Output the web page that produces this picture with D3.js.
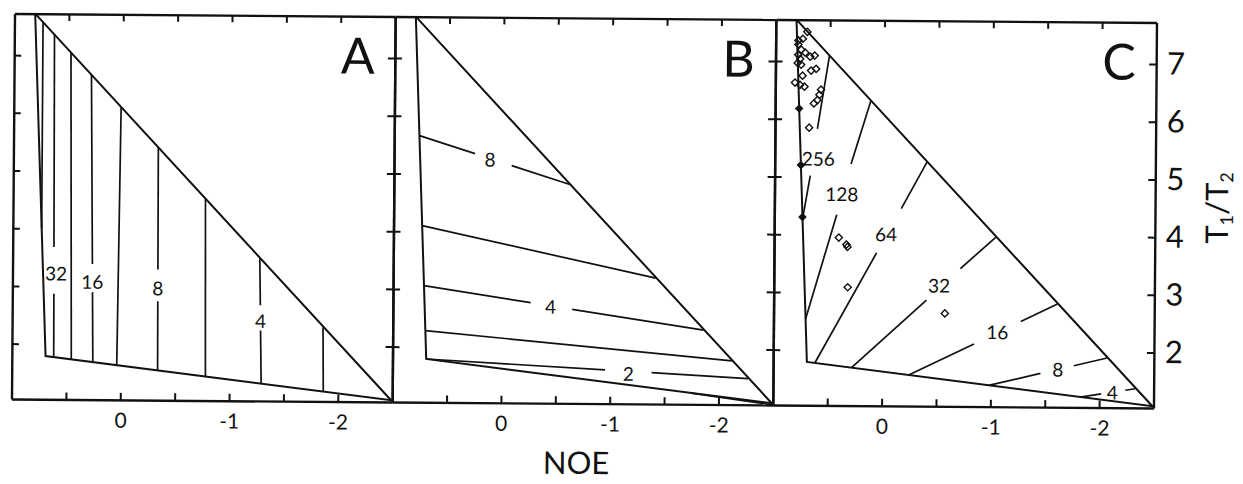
<!DOCTYPE html>
<meta charset="utf-8">
<head>
<!-- Load d3.js -->
<script src="https://d3js.org/d3.v7.min.js"></script>
<style type="text/css">
  body { margin: 0; background: #fff; }
  text { font-family: Lato, "Open Sans", sans-serif; fill: #111; }
  .tick line, .domain { stroke: #111; }
</style>
</head>
<body>
<div id="my_dataviz"></div>

<script>

// ---- data: x = NOE, y = T1/T2 ----
var panelNames = ["A", "B", "C"];
var xTicks = [0.5, 0, -0.5, -1, -1.5, -2];
var xTickLabels = [0, -1, -2];
var yTicks = [2, 3, 4, 5, 6, 7];

// outer limit of the allowed region (same in all three panels)
var boundary = [[0.81, 7.72], [0.69, 1.79], [-2.49, 1.07], [0.81, 7.72]];

// panel A contour segments (broken where a label sits)
var contoursA = [
  [[0.737, 7.572], [0.735, 4.0]],
  [[0.631, 7.358], [0.6205, 3.68]], [[0.618, 2.87], [0.615, 1.773]],
  [[0.478, 7.049], [0.453, 1.736]],
  [[0.288, 6.665], [0.266, 3.39]], [[0.263, 2.90], [0.255, 1.691]],
  [[0.013, 6.109], [0.035, 1.641]],
  [[-0.332, 5.412], [-0.337, 3.305]], [[-0.338, 2.755], [-0.341, 1.556]],
  [[-0.769, 4.528], [-0.781, 1.456]],
  [[-1.273, 3.510], [-1.281, 2.70]], [[-1.285, 2.26], [-1.294, 1.339]],
  [[-1.859, 2.325], [-1.866, 1.210]]
];
var labelsA = [["32", 0.60, 3.22], ["16", 0.265, 3.08], ["8", -0.337, 2.975], ["4", -1.285, 2.42]];

// panel B contour segments
var contoursB = [
  [[0.768, 5.66], [0.256, 5.355]], [[-0.082, 5.153], [-0.618, 4.834]],
  [[0.737, 4.10], [-1.415, 3.222]],
  [[0.716, 3.06], [-0.266, 2.78]], [[-0.648, 2.67], [-1.858, 2.327]],
  [[0.70, 2.28], [-2.12, 1.80]],
  [[0.69, 1.79], [-0.955, 1.625]], [[-1.383, 1.583], [-2.27, 1.494]],
  [[-1.75, 1.236], [-2.5, 1.04]]
];
var labelsB = [["8", 0.118, 5.25], ["4", -0.45, 2.71], ["2", -1.17, 1.56]];

// panel C contour segments
var contoursC = [
  [[0.504, 7.10], [0.610, 5.83]], [[0.672, 5.02], [0.740, 4.27]],
  [[0.12, 6.325], [0.298, 5.225]], [[0.426, 4.347], [0.705, 2.534]],
  [[-0.40, 5.27], [-0.167, 4.46]], [[0.057, 3.69], [0.617, 1.773]],
  [[-1.04, 3.98], [-0.715, 3.43]], [[-0.405, 2.88], [0.279, 1.697]],
  [[-1.61, 2.828], [-1.274, 2.52]], [[-0.845, 2.126], [-0.247, 1.577]],
  [[-2.07, 1.899], [-1.764, 1.761]], [[-1.458, 1.624], [-0.983, 1.41]],
  [[-2.331, 1.371], [-2.239, 1.343]], [[-2.018, 1.277], [-1.825, 1.219]]
];
var labelsC = [["256", 0.60, 5.31], ["128", 0.38, 4.70], ["64", -0.03, 4.01],
               ["32", -0.52, 3.13], ["16", -1.06, 2.33], ["8", -1.617, 1.69], ["4", -2.12, 1.30]];

// measured residues in panel C
var openPointsC = [
  [0.709, 7.51], [0.750, 7.39], [0.791, 7.36], [0.791, 7.29], [0.764, 7.20],
  [0.727, 7.15], [0.791, 7.11], [0.681, 7.08], [0.640, 7.10], [0.773, 7.04],
  [0.796, 6.97], [0.764, 6.94], [0.672, 6.84], [0.626, 6.87], [0.750, 6.75],
  [0.819, 6.63], [0.773, 6.59], [0.732, 6.56], [0.580, 6.51], [0.594, 6.42],
  [0.612, 6.33], [0.644, 6.27], [0.686, 5.85],
  [0.405, 3.95], [0.335, 3.83], [0.325, 3.79], [0.320, 3.09], [-0.575, 2.65]
];
var filledPointsC = [[0.779, 6.18], [0.759, 5.20], [0.741, 4.30]];

// ---- layout ----
var margin = {left: 13, top: 18},
    panelW = 380.67,
    panelH = 385.5;

var x = d3.scaleLinear().domain([1.0, -2.5]).range([0, panelW]);
var y = d3.scaleLinear().domain([1.04, 7.72]).range([panelH, 0]);

var line = d3.line()
  .x(function(d) { return x(d[0]); })
  .y(function(d) { return y(d[1]); });

var svg = d3.select("#my_dataviz")
  .append("svg")
    .attr("width", 1243)
    .attr("height", 484);

// the scan is tilted a little, so tilt the whole figure the same way
var chart = svg.append("g")
  .attr("transform", "rotate(0.45,584,210)");

var panels = [
  {lines: contoursA, labels: labelsA},
  {lines: contoursB, labels: labelsB},
  {lines: contoursC, labels: labelsC}
];

panels.forEach(function(p, i) {
  var g = chart.append("g")
    .attr("transform", "translate(" + (margin.left + i * panelW) + "," + margin.top + ")");

  // contour lines
  g.selectAll(".contour")
    .data(p.lines)
    .enter().append("path")
      .attr("class", "contour")
      .attr("d", line)
      .attr("fill", "none")
      .attr("stroke", "#111")
      .attr("stroke-width", 1.7);

  // region boundary
  g.append("path")
    .datum(boundary)
    .attr("d", line)
    .attr("fill", "none")
    .attr("stroke", "#111")
    .attr("stroke-width", 2)
    .attr("stroke-linejoin", "miter");

  // contour labels
  g.selectAll(".clabel")
    .data(p.labels)
    .enter().append("text")
      .attr("class", "clabel")
      .attr("x", function(d) { return x(d[1]); })
      .attr("y", function(d) { return y(d[2]); })
      .attr("dy", "0.36em")
      .attr("text-anchor", "middle")
      .style("font-size", "19px")
      .text(function(d) { return d[0]; });

  // panel letter
  g.append("text")
    .attr("x", panelW - 37)
    .attr("y", 57.5)
    .attr("text-anchor", "middle")
    .style("font-size", "50px")
    .text(panelNames[i]);

  // inward ticks on all four sides
  var axes = [
    {t: "translate(0," + panelH + ")", a: d3.axisBottom(x).tickValues(xTicks)},
    {t: "translate(0,0)", a: d3.axisTop(x).tickValues(xTicks)},
    {t: "translate(0,0)", a: d3.axisLeft(y).tickValues(yTicks)},
    {t: "translate(" + panelW + ",0)", a: d3.axisRight(y).tickValues(yTicks)}
  ];
  axes.forEach(function(ax) {
    g.append("g")
      .attr("transform", ax.t)
      .call(ax.a.tickSize(-7).tickSizeOuter(0).tickFormat(""))
      .call(function(s) {
        s.select(".domain").attr("stroke-width", 2.4);
        s.selectAll(".tick line").attr("stroke-width", 2);
      });
  });

  // NOE tick labels
  g.append("g")
    .attr("transform", "translate(0," + panelH + ")")
    .call(d3.axisBottom(x).tickValues(xTickLabels).tickSize(0).tickPadding(13)
      .tickFormat(function(d) { return String(d); }))
    .call(function(s) {
      s.select(".domain").remove();
      s.selectAll("text").style("font-size", "21px").attr("fill", "#111");
    });

  // data points and T1/T2 axis on the last panel
  if (i === 2) {
    var diamond = d3.symbol().type(d3.symbolSquare).size(26);
    g.selectAll(".open")
      .data(openPointsC)
      .enter().append("path")
        .attr("d", diamond)
        .attr("transform", function(d) { return "translate(" + x(d[0]) + "," + y(d[1]) + ") rotate(45)"; })
        .attr("fill", "none")
        .attr("stroke", "#111")
        .attr("stroke-width", 1.4);
    g.selectAll(".filled")
      .data(filledPointsC)
      .enter().append("path")
        .attr("d", diamond)
        .attr("transform", function(d) { return "translate(" + x(d[0]) + "," + y(d[1]) + ") rotate(45)"; })
        .attr("fill", "#111")
        .attr("stroke", "#111")
        .attr("stroke-width", 1);

    g.append("g")
      .attr("transform", "translate(" + panelW + ",0)")
      .call(d3.axisRight(y).tickValues(yTicks).tickSize(0).tickPadding(11)
        .tickFormat(function(d) { return String(d); }))
      .call(function(s) {
        s.select(".domain").remove();
        s.selectAll("text").style("font-size", "31px").attr("fill", "#111");
      });
  }
});

// axis titles
chart.append("text")
  .attr("x", 578)
  .attr("y", 474)
  .attr("text-anchor", "middle")
  .style("font-size", "31px")
  .text("NOE");

var yTitle = chart.append("text")
  .attr("transform", "translate(1228,203) rotate(-90)")
  .attr("text-anchor", "middle")
  .style("font-size", "31px");
yTitle.append("tspan").text("T");
yTitle.append("tspan").attr("dy", 5).style("font-size", "18px").text("1");
yTitle.append("tspan").attr("dy", -5).text("/T");
yTitle.append("tspan").attr("dy", 5).style("font-size", "18px").text("2");

</script>
</body>
</html>
